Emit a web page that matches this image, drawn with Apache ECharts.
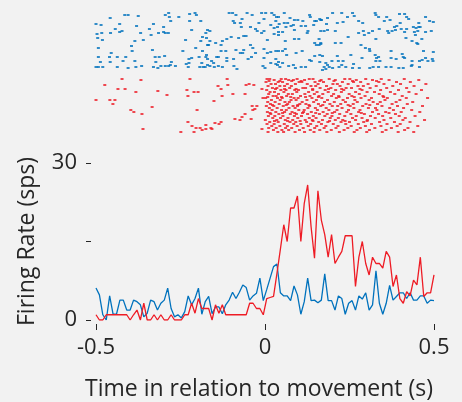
<!DOCTYPE html>
<html>
<head>
<meta charset="utf-8">
<script src="https://cdn.jsdelivr.net/npm/echarts@6/dist/echarts.min.js"></script>
<style>
  html, body { margin: 0; padding: 0; background: #f2f2f2; }
  #chart { width: 462px; height: 402px; }
</style>
</head>
<body>
<div id="chart"></div>
<script>
// Analysis window and PSTH binning (seconds)
const windowStart = -0.5;
const windowEnd = 0.5;
const binCount = 100;

const xTickValues = [-0.5, 0, 0.5];
const yTickValues = [0, 15, 30];
const yLabelledTicks = [0, 30];

// Firing rate per bin (spikes/s)
const blueRate = [
  6.1, 4.8, 1.0, 0.0, 4.6, 1.1, 1.1, 3.8, 3.8, 1.9,
  1.9, 3.8, 3.5, 2.9, 0.6, 1.3, 3.8, 3.5, 1.9, 3.2,
  3.8, 6.1, 2.2, 0.6, 1.0, 0.4, 1.6, 4.6, 2.9, 4.1,
  6.1, 1.1, 3.5, 4.5, 1.2, 2.5, 2.5, 1.2, 2.9, 3.8,
  5.3, 4.1, 5.3, 6.7, 6.2, 3.8, 4.6, 5.1, 8.0, 3.7,
  5.8, 8.0, 10.2, 10.7, 5.2, 4.6, 4.6, 3.7, 6.5, 4.8,
  1.1, 3.5, 8.0, 3.7, 3.8, 3.3, 3.8, 8.8, 3.7, 3.7,
  1.9, 4.6, 4.1, 1.1, 3.2, 3.7, 1.9, 4.6, 4.0, 5.2,
  1.9, 2.9, 9.4, 3.2, 1.1, 3.2, 6.6, 3.8, 4.5, 5.2,
  5.2, 4.1, 5.2, 3.8, 3.8, 4.6, 4.6, 3.2, 3.8, 3.7
];
const redRate = [
  1.0, 0.0, 0.0, 1.0, 1.0, 1.0, 1.0, 1.0, 1.0, 1.0,
  0.0, 1.0, 1.9, 0.0, 3.2, 0.0, 0.0, 1.0, 0.0, 1.0,
  0.0, 0.0, 1.0, 0.0, 0.0, 0.0, 1.0, 1.0, 3.2, 1.3,
  4.1, 2.2, 2.2, 2.2, 0.0, 2.9, 1.3, 2.9, 1.0, 1.0,
  1.0, 1.0, 1.0, 1.0, 1.0, 3.2, 3.2, 2.2, 2.2, 1.0,
  4.1, 4.3, 4.5, 8.9, 13.5, 18.2, 15.0, 21.4, 21.4, 23.7,
  15.0, 22.3, 25.8, 17.8, 11.8, 24.7, 19.1, 16.3, 12.0, 16.3,
  10.8, 12.0, 13.1, 16.1, 16.1, 16.1, 6.4, 12.0, 15.0, 10.8,
  8.6, 12.0, 10.8, 10.8, 9.9, 13.1, 12.0, 6.4, 8.6, 4.1,
  3.2, 5.4, 4.6, 7.6, 6.7, 12.0, 4.5, 5.2, 5.2, 8.6
];

// Raster, condition 1: [spike time (ms), trial row]
const blueSpikes = [
  [-500,12],[-485,13],[-458,6],[-430,12],[-415,3],[-405,3],[-375,4],[-380,14],[-330,12],[-300,15],
  [-295,3],[-285,1],[-283,5],[-279,9],[-255,5],[-223,2],[-207,1],[-203,3],[-190,9],[-223,9],
  [-497,22],[-483,21],[-457,21],[-443,17],[-430,20],[-423,19],[-368,21],[-342,17],[-337,23],[-315,21],
  [-300,20],[-295,21],[-286,21],[-217,18],[-175,21],[-185,25],
  [-495,26],[-481,28],[-385,29],[-360,28],[-235,28],[-190,29],[-167,33],
  [-493,36],[-395,34],[-393,39],[-333,38],[-243,39],[-205,36],[-185,39],
  [-455,41],[-493,45],[-460,45],[-437,45],[-412,45],[-325,45],[-313,45],[-297,44],[-225,47],[-217,46],
  [-195,45],[-175,45],[-170,47],
  [-487,50],[-458,50],[-420,49],[-385,49],[-323,50],[-277,50],[-233,52],[-225,51],[-187,51],[-170,53],
  [-500,55],[-493,55],[-480,55],[-437,55],[-405,56],[-382,55],[-365,54],[-330,55],[-317,56],[-308,54],
  [-295,54],[-285,54],[-280,53],[-265,54],[-227,55],[-193,55],[-183,55],[-177,55],
  [-106,1],[-96,1],[-86,3],[-53,1],[-38,3],[-10,1],[2,1],[20,1],[27,3],[34,5],
  [40,5],[57,1],[74,6],[87,8],[97,8],[112,9],[132,3],[134,5],[147,9],[152,9],
  [167,8],[-94,9],[-90,11],[-73,11],[-68,7],[-18,11],[-3,7],[17,13],[32,9],[42,12],
  [57,11],[67,11],[77,14],[84,13],[-170,18],[-163,19],[-70,15],[-43,15],[-28,17],[-23,19],
  [-3,19],[27,16],[37,15],[40,20],[52,20],[62,15],[87,18],[107,14],[120,14],[127,19],
  [125,21],[144,13],[162,7],[-173,26],[-163,29],[-146,31],[-126,29],[-113,27],[-100,25],[-78,26],
  [-63,24],[-56,24],[-10,21],[7,28],[40,23],[27,22],[60,29],[87,27],[100,27],[147,31],
  [152,33],[165,31],[-170,33],[-130,33],[-116,39],[-86,38],[-63,38],[-43,33],[-36,36],[-28,41],
  [-40,45],[-50,47],[-66,41],[-73,41],[-3,37],[7,41],[17,40],[32,39],[40,39],[52,39],
  [60,37],[64,43],[92,41],[110,39],[147,44],[162,43],[170,44],[-173,43],[-143,45],[-138,45],
  [-113,46],[-130,39],[-93,47],[-113,49],[-158,49],[-152,51],[-138,54],[-163,54],[-150,55],[-126,55],
  [-92,54],[-83,57],[-6,54],[0,56],[32,52],[40,50],[37,53],[44,55],[52,51],[70,54],
  [84,53],[90,56],[107,55],[120,55],[137,49],[132,48],[-3,46],[17,51],[32,47],[162,50],
  [165,8],[182,12],[185,6],[200,1],[214,11],[227,1],[231,10],[244,5],[259,1],[264,4],
  [277,9],[289,11],[326,1],[328,3],[336,5],[353,9],[360,5],[370,8],[398,2],[400,11],
  [413,2],[419,5],[425,7],[439,15],[455,11],[459,15],[475,5],[487,9],[498,10],
  [165,19],[175,19],[185,18],[208,19],[246,25],[277,21],[291,19],[294,23],[307,21],[318,19],
  [338,17],[363,19],[366,21],[376,19],[383,15],[386,18],[390,14],[403,17],[413,20],[417,26],
  [419,17],[442,20],[445,23],[447,16],[452,19],[455,15],[464,27],[475,20],[492,19],
  [160,27],[165,32],[208,31],[225,31],[328,27],[284,33],[297,36],[309,37],[310,39],[373,39],
  [388,47],[406,42],[435,29],[449,31],[452,32],[469,39],[498,40],[160,33],
  [214,44],[198,49],[217,49],[231,49],[254,43],[262,52],[287,46],[326,43],[330,46],[336,45],
  [328,49],[340,49],[373,46],[409,45],[413,46],[435,49],[435,53],[457,49],[465,48],[475,46],
  [482,49],[495,47],[497,49],
  [180,51],[185,53],[175,55],[190,55],[180,57],[170,58],[200,56],[219,55],[227,53],[239,55],
  [259,56],[279,56],[310,56],[320,55],[336,55],[358,55],[373,55],[396,56],[409,56],[433,54],
  [457,55]
];

// Raster, condition 2 before and around movement onset: [spike time (ms), trial row]
const redSpikes = [
  [-423,3],[-367,4],[-474,9],[-435,13],[-414,13],[-382,16],[-317,15],[-290,19],[-500,24],[-459,24],
  [-444,24],[-450,28],[-397,34],[-388,36],[-364,38],[-334,31],[-361,53],[-222,3],[-231,14],[-228,20],
  [-210,16],[-198,16],[-201,34],[-228,46],[-216,50],[-204,52],[-192,52],[-175,49],[-175,53],[-160,52],
  [-157,53],[-148,47],[-136,48],[-130,46],[-139,10],[-130,13],[-127,20],[-151,25],[-112,3],[-110,9],
  [-95,18],[-59,18],[-56,9],[-47,8],[-33,9],[-9,13],[-6,22],[-38,30],[-24,30],[-30,33],
  [-36,34],[-59,38],[-68,41],[-89,43],[-74,44],[-41,43],[-9,53],[-249,56],[-210,56],[-186,54]
];

// Raster, condition 2 after movement onset: [trial row, spike times (ms)]
const redBurstRows = [
  [3, [6, 14, 48, 61, 95, 131, 142, 190, 236, 251, 298, 344, 412]],
  [4, [27, 70, 84, 117, 166, 208, 270, 318, 367, 455]],
  [5, [12, 44, 79, 107, 162, 204, 259, 330]],
  [6, [3, 39, 52, 101, 109, 148, 173, 229, 262, 283, 337, 389, 430]],
  [8, [18, 31, 66, 90, 125, 157, 201, 214, 246, 305, 352, 401, 476]],
  [10, [9, 44, 58, 78, 136, 150, 182, 222, 275, 291, 329, 378, 441]],
  [12, [22, 35, 73, 112, 120, 163, 195, 240, 256, 311, 360, 419]],
  [13, [31, 58, 92, 141, 188, 227, 281]],
  [14, [5, 47, 62, 88, 99, 141, 178, 209, 233, 287, 342, 395, 463]],
  [16, [15, 28, 56, 94, 129, 154, 187, 226, 268, 302, 324, 371, 426]],
  [18, [11, 40, 69, 81, 118, 146, 171, 203, 249, 279, 338, 384, 447]],
  [20, [24, 33, 64, 105, 133, 160, 197, 218, 257, 296, 349, 406]],
  [21, [8, 49, 76, 120, 158, 219, 264, 351]],
  [22, [2, 37, 51, 86, 98, 139, 168, 211, 244, 284, 315, 362, 418, 481]],
  [24, [19, 45, 77, 92, 124, 152, 185, 231, 266, 308, 355, 399]],
  [26, [8, 30, 59, 72, 110, 144, 176, 205, 238, 273, 320, 341, 388, 437]],
  [28, [16, 42, 67, 103, 121, 158, 192, 224, 261, 299, 333, 376, 421]],
  [29, [22, 63, 97, 130, 171, 246, 310]],
  [30, [4, 26, 54, 83, 96, 132, 165, 199, 215, 252, 289, 346, 392, 466]],
  [32, [13, 36, 71, 89, 127, 149, 181, 228, 263, 306, 327, 369, 410]],
  [34, [21, 49, 63, 100, 116, 155, 189, 213, 247, 281, 331, 380, 434]],
  [36, [7, 32, 58, 80, 114, 137, 172, 206, 242, 277, 318, 357, 403, 458]],
  [37, [15, 52, 88, 111, 150, 199, 285, 367]],
  [38, [17, 41, 75, 93, 126, 161, 184, 221, 254, 294, 336, 386]],
  [40, [10, 29, 53, 87, 108, 143, 177, 198, 236, 270, 312, 348, 397, 444]],
  [42, [23, 46, 68, 97, 131, 151, 193, 217, 259, 287, 326, 372, 415]],
  [44, [1, 35, 60, 82, 119, 140, 170, 208, 230, 268, 303, 352, 408, 472]],
  [45, [28, 67, 104, 142, 191, 237, 302]],
  [46, [14, 39, 74, 91, 123, 159, 186, 225, 250, 292, 339, 383, 429]],
  [48, [6, 27, 57, 85, 106, 135, 167, 202, 239, 276, 315, 361, 400]],
  [50, [20, 44, 66, 95, 128, 153, 180, 216, 255, 297, 343, 391, 452]],
  [52, [11, 33, 61, 79, 113, 147, 175, 210, 245, 282, 325, 374, 423]],
  [54, [25, 50, 70, 102, 134, 162, 196, 234, 272, 309, 358, 413]],
  [56, [9, 38, 55, 89, 117, 145, 183, 220, 264, 301, 347, 394, 440]]
];

// Second condition is stacked below the first in the raster
const redRowOffset = 64;

const blueColor = '#0072bd';
const redColor = '#ee1c25';
const textColor = '#262626';
const fontFamily = '"Open Sans", "Noto Sans", sans-serif';

const binStep = (windowEnd - windowStart) / (binCount - 1);
const binTimes = blueRate.map((_, i) => windowStart + i * binStep);
const blueLine = blueRate.map((v, i) => [binTimes[i], v]);
const redLine = redRate.map((v, i) => [binTimes[i], v]);

const blueDots = blueSpikes.map(([ms, row]) => [ms / 1000, row]);
const redDots = redSpikes.map(([ms, row]) => [ms / 1000, row + redRowOffset]);
redBurstRows.forEach(([row, times]) => {
  times.forEach(ms => redDots.push([ms / 1000, row + redRowOffset]));
});

const chart = echarts.init(document.getElementById('chart'), null, { renderer: 'canvas' });

chart.setOption({
  backgroundColor: '#f2f2f2',
  animation: false,
  grid: [
    { left: 96, width: 338, top: 12, height: 124 },
    { left: 96, width: 338, top: 163, height: 157 }
  ],
  xAxis: [
    { gridIndex: 0, type: 'value', min: windowStart, max: windowEnd, show: false },
    {
      gridIndex: 1, type: 'value', min: windowStart, max: windowEnd, interval: 0.5,
      offset: 4,
      axisLine: { show: false, onZero: false },
      axisTick: { show: true, length: 6, lineStyle: { color: textColor, width: 1 } },
      splitLine: { show: false },
      axisLabel: {
        margin: 13, color: textColor, fontSize: 22, fontFamily,
        formatter: v => (xTickValues.some(t => Math.abs(t - v) < 1e-9) ? String(v) : '')
      },
      name: 'Time in relation to movement (s)',
      nameLocation: 'middle',
      nameGap: 54,
      nameTextStyle: { color: textColor, fontSize: 23, fontFamily, padding: [0, 12, 0, 0] }
    }
  ],
  yAxis: [
    { gridIndex: 0, type: 'value', min: 0, max: 124, inverse: true, show: false },
    {
      gridIndex: 1, type: 'value', min: yTickValues[0], max: yTickValues[2], interval: 15,
      offset: 5,
      axisLine: { show: false, onZero: false },
      axisTick: { show: true, length: 5, lineStyle: { color: textColor, width: 1 } },
      splitLine: { show: false },
      axisLabel: {
        margin: 14, color: textColor, fontSize: 22, fontFamily,
        formatter: v => (yLabelledTicks.includes(v) ? String(v) : '')
      },
      name: 'Firing Rate (sps)',
      nameLocation: 'middle',
      nameGap: 52,
      nameTextStyle: { color: textColor, fontSize: 23, fontFamily }
    }
  ],
  series: [
    {
      type: 'scatter', xAxisIndex: 0, yAxisIndex: 0, data: blueDots,
      symbol: 'rect', symbolSize: [3, 2], itemStyle: { color: blueColor }, silent: true
    },
    {
      type: 'scatter', xAxisIndex: 0, yAxisIndex: 0, data: redDots,
      symbol: 'rect', symbolSize: [3, 2], itemStyle: { color: redColor }, silent: true
    },
    {
      type: 'line', xAxisIndex: 1, yAxisIndex: 1, data: blueLine,
      showSymbol: false, lineStyle: { color: blueColor, width: 1.3 }, silent: true
    },
    {
      type: 'line', xAxisIndex: 1, yAxisIndex: 1, data: redLine,
      showSymbol: false, lineStyle: { color: redColor, width: 1.3 }, silent: true
    }
  ]
});
</script>
</body>
</html>
